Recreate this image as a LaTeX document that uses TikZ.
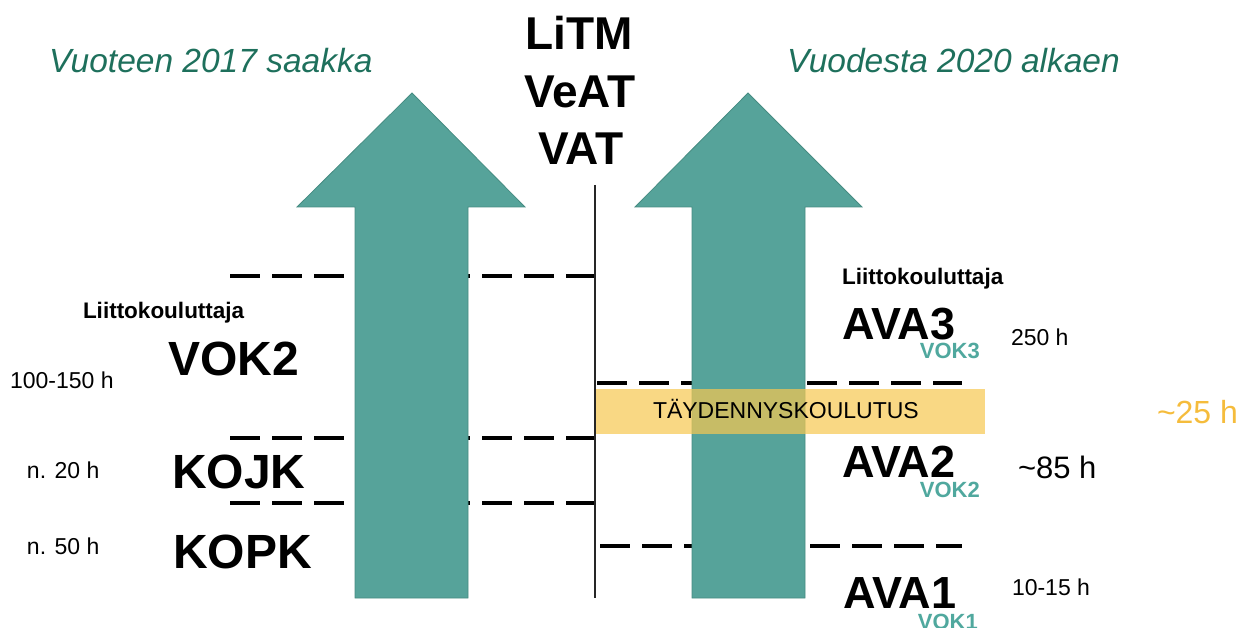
\documentclass[tikz,border=0pt]{standalone}
\usepackage{fontspec}
\setmainfont{Liberation Sans}
\definecolor{teal1}{RGB}{86,163,154}
\definecolor{tealedge}{RGB}{70,140,130}
\definecolor{titlegreen}{RGB}{30,112,92}
\definecolor{vokteal}{RGB}{80,168,158}
\definecolor{bandyellow}{RGB}{247,200,80}
\definecolor{orangeh}{RGB}{245,188,60}
\tikzset{
  txt/.style={inner sep=0pt, outer sep=0pt, anchor=base west},
  title/.style={txt, text=titlegreen, font=\fontsize{33.5}{40}\selectfont\itshape},
  mid/.style={inner sep=0pt, anchor=base, font=\fontsize{46}{50}\selectfont\bfseries},
  big/.style={txt, font=\fontsize{48}{52}\selectfont\bfseries},
  ava/.style={txt, font=\fontsize{45}{50}\selectfont\bfseries},
  vok/.style={inner sep=0pt, anchor=base east, text=vokteal, font=\fontsize{22}{26}\selectfont\bfseries},
  small/.style={txt, font=\fontsize{23}{27}\selectfont},
  lk/.style={txt, font=\fontsize{22.5}{27}\selectfont\bfseries},
  dash line/.style={line width=3.6pt, dash pattern=on 30pt off 12pt},
  bigarrow/.style={fill=teal1, draw=tealedge, line width=0.8pt},
}
\begin{document}
\begin{tikzpicture}[x=1pt,y=-1pt]
\useasboundingbox (0,0) rectangle (1250,628);
% vertical line
\draw[line width=1.3pt, black!85] (595,185) -- (595,598);
% dashed lines
\draw[dash line] (230,276) -- (594,276);
\draw[dash line] (230,438) -- (594,438);
\draw[dash line] (230,503) -- (594,503);
\draw[dash line] (597,383) -- (962,383);
\draw[dash line] (600,546) -- (962,546);
% arrows
\draw[bigarrow] (412,93) -- (525,207) -- (468,207) -- (468,598) -- (355,598) -- (355,207) -- (297,207) -- cycle;
\draw[bigarrow] (748,93) -- (862,207) -- (805,207) -- (805,598) -- (692,598) -- (692,207) -- (635,207) -- cycle;
% yellow band
\fill[bandyellow, opacity=0.7] (596,389) rectangle (985,434);
% titles
\node[title] (t1) at (49,73) {Vuoteen 2017 saakka};
\node[title] (t2) at (787,73) {Vuodesta 2020 alkaen};
\node[mid] (m1) at (579,50) {LiTM};
\node[mid] (m2) at (580,108) {VeAT};
\node[mid] (m3) at (581,165) {VAT};
% left labels
\node[lk] (lk1) at (83,318) {Liittokouluttaja};
\node[big] (vok2) at (168,375) {VOK2};
\node[small] (h1) at (10,388) {100-150 h};
\node[big] (kojk) at (172,488) {KOJK};
\node[small] (h2) at (27,478) {n. 20 h};
\node[big] (kopk) at (173,568) {KOPK};
\node[small] (h3) at (27,554) {n. 50 h};
% right labels
\node[lk] (lk2) at (842,285) {Liittokouluttaja};
\node[ava] (ava3) at (842,339) {AVA3};
\node[vok] (vok3) at (980,358) {VOK3};
\node[small] (h4) at (1011,345) {250 h};
\node[txt, font=\fontsize{23}{27}\selectfont] (tay) at (653,418) {TÄYDENNYSKOULUTUS};
\node[txt, text=orangeh, font=\fontsize{32}{36}\selectfont] (h5) at (1157,423) {{\char"7E}25 h};
\node[ava] (ava2) at (842,477) {AVA2};
\node[vok] (vokb) at (980,497) {VOK2};
\node[txt, font=\fontsize{31}{36}\selectfont] (h6) at (1018,478) {{\char"7E}85 h};
\node[ava] (ava1) at (843,608) {AVA1};
\node[vok] (vok1) at (978,629) {VOK1};
\node[small] (h7) at (1012,595) {10-15 h};
\end{tikzpicture}
\end{document}
